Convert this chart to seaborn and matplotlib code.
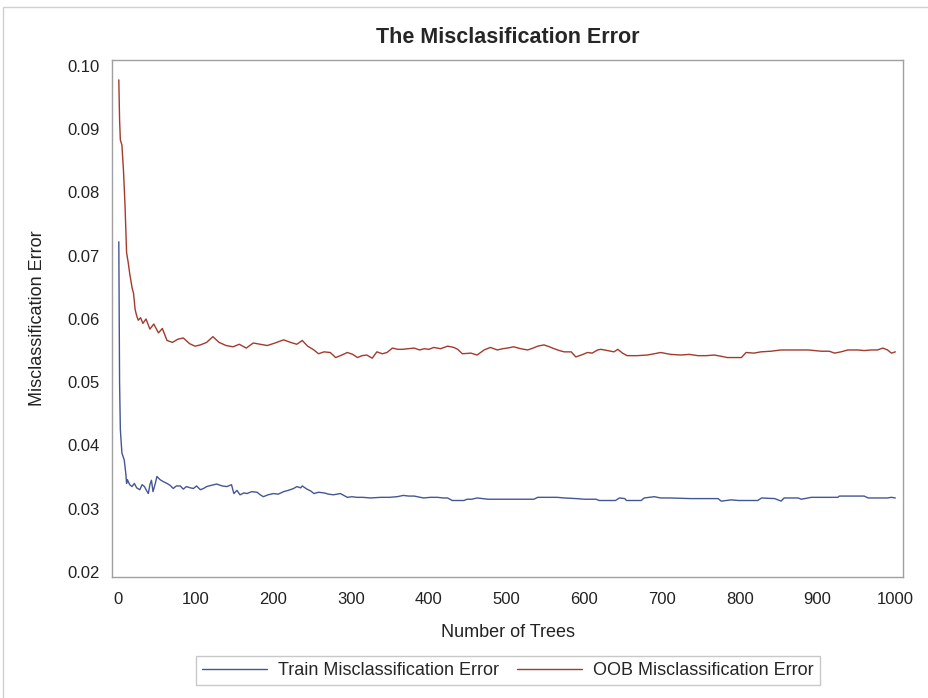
import numpy as np
import pandas as pd
import matplotlib
matplotlib.use("Agg")
import matplotlib.pyplot as plt
import seaborn as sns
from matplotlib.patches import Rectangle


train_trees = [1, 2, 3, 5, 8, 10, 11, 12, 15, 18, 21, 24, 28, 31, 34, 37, 39, 41, 43, 45,
               48, 50, 54, 58, 63, 67, 71, 75, 80, 84, 88, 93, 97, 101, 106, 110, 114, 120,
               127, 134, 140, 146, 149, 153, 157, 162, 166, 172, 179, 183, 187, 193, 200,
               206, 213, 219, 226, 230, 235, 237, 243, 248, 252, 258, 265, 271, 277, 286,
               295, 301, 307, 315, 325, 338, 349, 359, 367, 374, 381, 393, 402, 411, 418,
               424, 430, 445, 449, 455, 462, 476, 493, 510, 522, 535, 540, 552, 565, 574,
               590, 600, 610, 615, 619, 630, 640, 645, 652, 654, 665, 673, 677, 690, 698,
               710, 737, 750, 772, 776, 789, 798, 810, 823, 828, 845, 853, 857, 875, 879,
               892, 910, 926, 928, 945, 960, 965, 980, 990, 995, 1000]
train_error = [0.0722, 0.0500, 0.0425, 0.0388, 0.0377, 0.0356, 0.0340, 0.0346, 0.0338, 0.0335,
               0.0340, 0.0333, 0.0330, 0.0338, 0.0335, 0.0328, 0.0324, 0.0338, 0.0345, 0.0327,
               0.0340, 0.0351, 0.0346, 0.0343, 0.0340, 0.0337, 0.0332, 0.0336, 0.0336, 0.0331,
               0.0335, 0.0333, 0.0332, 0.0336, 0.0330, 0.0332, 0.0335, 0.0337, 0.0339, 0.0336,
               0.0335, 0.0338, 0.0324, 0.0329, 0.0322, 0.0325, 0.0324, 0.0327, 0.0326, 0.0322,
               0.0319, 0.0322, 0.0324, 0.0323, 0.0327, 0.0329, 0.0332, 0.0335, 0.0333, 0.0336,
               0.0331, 0.0328, 0.0324, 0.0326, 0.0325, 0.0323, 0.0322, 0.0324, 0.0318, 0.0319,
               0.0318, 0.0318, 0.0317, 0.0318, 0.0318, 0.0319, 0.0321, 0.0320, 0.0320, 0.0317,
               0.0318, 0.0318, 0.0317, 0.0317, 0.0313, 0.0313, 0.0315, 0.0315, 0.0317, 0.0315,
               0.0315, 0.0315, 0.0315, 0.0315, 0.0318, 0.0318, 0.0318, 0.0317, 0.0316, 0.0315,
               0.0315, 0.0315, 0.0313, 0.0313, 0.0313, 0.0317, 0.0316, 0.0313, 0.0313, 0.0313,
               0.0317, 0.0319, 0.0317, 0.0317, 0.0316, 0.0316, 0.0316, 0.0312, 0.0314, 0.0313,
               0.0313, 0.0313, 0.0317, 0.0316, 0.0312, 0.0317, 0.0317, 0.0315, 0.0318, 0.0318,
               0.0318, 0.0320, 0.0320, 0.0320, 0.0317, 0.0317, 0.0317, 0.0318, 0.0317]

oob_trees = [1, 2, 3, 5, 7, 9, 11, 13, 15, 18, 20, 22, 24, 26, 29, 32, 36, 41, 46, 52, 57,
             63, 70, 77, 84, 92, 99, 106, 114, 122, 130, 139, 148, 156, 165, 174, 183, 192,
             202, 213, 222, 230, 237, 244, 252, 258, 265, 273, 280, 288, 295, 302, 308, 314,
             320, 327, 333, 340, 346, 353, 360, 366, 374, 381, 388, 394, 400, 406, 415, 424,
             432, 437, 443, 454, 462, 471, 479, 488, 495, 501, 509, 518, 527, 534, 540, 548,
             555, 561, 568, 574, 583, 589, 596, 604, 610, 617, 621, 630, 638, 643, 649, 655,
             668, 681, 690, 698, 711, 724, 735, 746, 757, 767, 776, 784, 793, 802, 808, 818,
             827, 840, 853, 870, 888, 905, 915, 922, 930, 939, 952, 960, 969, 977, 984, 990,
             995, 1000]
oob_error = [0.0978, 0.0915, 0.0883, 0.0875, 0.0835, 0.0780, 0.0705, 0.0690, 0.0672, 0.0650,
             0.0640, 0.0615, 0.0605, 0.0598, 0.0602, 0.0593, 0.0600, 0.0584, 0.0592, 0.0578,
             0.0585, 0.0566, 0.0563, 0.0568, 0.0570, 0.0561, 0.0557, 0.0559, 0.0563, 0.0572,
             0.0563, 0.0558, 0.0556, 0.0560, 0.0554, 0.0562, 0.0560, 0.0558, 0.0562, 0.0567,
             0.0563, 0.0560, 0.0566, 0.0557, 0.0551, 0.0545, 0.0548, 0.0547, 0.0539, 0.0543,
             0.0547, 0.0544, 0.0539, 0.0542, 0.0543, 0.0538, 0.0548, 0.0545, 0.0547, 0.0554,
             0.0552, 0.0552, 0.0553, 0.0554, 0.0551, 0.0553, 0.0552, 0.0555, 0.0553, 0.0557,
             0.0555, 0.0552, 0.0545, 0.0546, 0.0543, 0.0551, 0.0555, 0.0551, 0.0553, 0.0554,
             0.0556, 0.0553, 0.0551, 0.0554, 0.0557, 0.0559, 0.0556, 0.0553, 0.0550, 0.0548,
             0.0548, 0.0540, 0.0543, 0.0547, 0.0546, 0.0551, 0.0552, 0.0550, 0.0548, 0.0552,
             0.0546, 0.0542, 0.0542, 0.0543, 0.0545, 0.0547, 0.0544, 0.0543, 0.0544, 0.0542,
             0.0542, 0.0543, 0.0541, 0.0539, 0.0539, 0.0539, 0.0547, 0.0546, 0.0548, 0.0549,
             0.0551, 0.0551, 0.0551, 0.0549, 0.0549, 0.0546, 0.0548, 0.0551, 0.0551, 0.0550,
             0.0551, 0.0551, 0.0554, 0.0551, 0.0546, 0.0548]

series_names = ["Train Misclassification Error", "OOB Misclassification Error"]
x_ticks = [0, 100, 200, 300, 400, 500, 600, 700, 800, 900, 1000]
y_ticks = [0.02, 0.03, 0.04, 0.05, 0.06, 0.07, 0.08, 0.09, 0.10]

df = pd.concat([
    pd.DataFrame({"trees": train_trees, "error": train_error, "series": series_names[0]}),
    pd.DataFrame({"trees": oob_trees, "error": oob_error, "series": series_names[1]}),
])

sns.set_style("white")
plt.rcParams["font.family"] = ["Liberation Sans", "DejaVu Sans"]

fig = plt.figure(figsize=(9.29, 6.98), dpi=100)
ax = fig.add_axes([0.1206, 0.1734, 0.8515, 0.7407])

# outer light frame of the graph
fig.patches.append(Rectangle((3 / 929, -0.01), 1.0, 1 - 7 / 698 + 0.01, transform=fig.transFigure,
                             fill=False, edgecolor="#d0d0d0", linewidth=1.0))

sns.lineplot(data=df, x="trees", y="error", hue="series", estimator=None,
             palette={series_names[0]: "#445694", series_names[1]: "#A23A2E"},
             linewidth=1.0, ax=ax)

ax.set_xlim(-7.7, 1010)
ax.set_ylim(0.01921, 0.10095)
ax.set_xticks(x_ticks)
ax.set_yticks(y_ticks)
ax.set_yticklabels([f"{v:.2f}" for v in y_ticks])

for s in ax.spines.values():
    s.set_color("#a0a0a0")
    s.set_linewidth(1.0)
ax.tick_params(axis="both", direction="out", length=5, width=1, color="#a0a0a0",
               labelsize=12, labelcolor="#222222")
ax.tick_params(axis="x", pad=6)
ax.tick_params(axis="y", pad=4)

ax.set_xlabel("Number of Trees", fontsize=13, color="#222222")
ax.set_ylabel("Misclassification Error", fontsize=13, color="#222222")
ax.xaxis.set_label_coords(0.5, -0.091)
ax.yaxis.set_label_coords(-0.083, 0.5)
ax.set_title("The Misclasification Error", fontsize=15.5, fontweight="bold", pad=12)

handles, labels = ax.get_legend_handles_labels()
ax.legend(handles, labels, loc="center", bbox_to_anchor=(0.5463, 0.0394),
          bbox_transform=fig.transFigure, ncol=2, frameon=True, fancybox=False,
          edgecolor="#c8c8c8", fontsize=13, handlelength=3.6, columnspacing=1.0,
          handletextpad=0.6, borderpad=0.35, framealpha=1)

fig.savefig("out.png", dpi=100)
